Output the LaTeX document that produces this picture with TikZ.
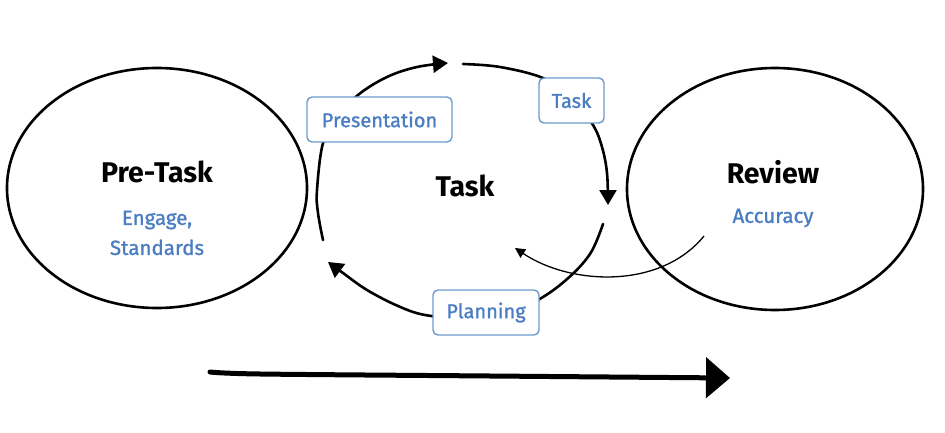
\documentclass[tikz,border=0pt]{standalone}
\usepackage{fontspec}
\setmainfont{Fira Sans}
\newfontfamily\medfont[FakeBold=1.2]{Fira Sans}
\usetikzlibrary{arrows.meta,shapes.geometric}
\definecolor{tblue}{HTML}{4A7DC2}
\definecolor{bblue}{HTML}{6C9ACB}
\begin{document}
\begin{tikzpicture}[x=1pt,y=-1pt,
 bubble/.style={ellipse,draw=black,line width=2.6pt,inner sep=0pt},
 headtxt/.style={font=\fontsize{28.5}{32}\selectfont\bfseries},
 subtxt/.style={text=tblue,font=\fontsize{20.5}{30}\selectfont\medfont,align=center},
 tag/.style={draw=bblue,line width=1.4pt,rounded corners=5pt,fill=white,text=tblue,font=\fontsize{20}{22}\selectfont\medfont,inner sep=0pt,minimum height=45pt},
 cyc/.style={line width=2.6pt,line cap=round,-{Triangle[length=15pt,width=17pt]}},
 backarrow/.style={line width=1.3pt,-{Triangle[length=10pt,width=10pt]}},
 timeline/.style={line width=5pt,line cap=round,-{Triangle[length=24pt,width=40pt]}}]
\useasboundingbox (0,0) rectangle (945,433);
% stage bubbles
\node[bubble,minimum width=300pt,minimum height=240pt] (pre) at (157,188) {};
\node[bubble,minimum width=296pt,minimum height=242pt] (rev) at (775,189) {};
\node[headtxt] (pretitle) at (157,172) {Pre-Task};
\node[subtxt] (presub) at (157,233) {Engage,\\Standards};
\node[headtxt] (revtitle) at (773,172) {Review};
\node[subtxt] (revsub) at (773,218) {Accuracy};
\node[headtxt] (tasktitle) at (465,186) {Task};
% cycle arcs
\draw[cyc] plot[smooth,tension=0.6] coordinates {(323,240) (318,213) (317,190) (323,143) (337,118) (358,95) (387,77) (417,67) (448,63)};
\draw[cyc] plot[smooth,tension=0.6] coordinates {(463,64) (500,67) (543,78) (572,97) (593,125) (602,147) (607,173) (608,205)};
\draw[cyc] plot[smooth,tension=0.6] coordinates {(603,224) (590,254) (566,280) (536,301) (501,314) (463,318) (425,315) (398,306) (367,290) (343,273) (328,262)};
% review feedback arrow
\coordinate (fbstart) at (704,236);
\coordinate (fbend) at (515,248);
\draw[backarrow] (fbstart) .. controls (660,290) and (570,285) .. (fbend);
% labels on the cycle
\node[tag,minimum width=145pt] (pres) at (379.5,119.5) {Presentation};
\node[tag,minimum width=65pt] (tasktag) at (571.5,100.5) {Task};
\node[tag,minimum width=106pt] (plan) at (486,312.5) {Planning};
% timeline
\coordinate (tl0) at (210,372);
\coordinate (tl1) at (730,378);
\draw[timeline] plot[smooth] coordinates {(tl0) (260,374) (490,376) (tl1)};
\end{tikzpicture}
\end{document}
